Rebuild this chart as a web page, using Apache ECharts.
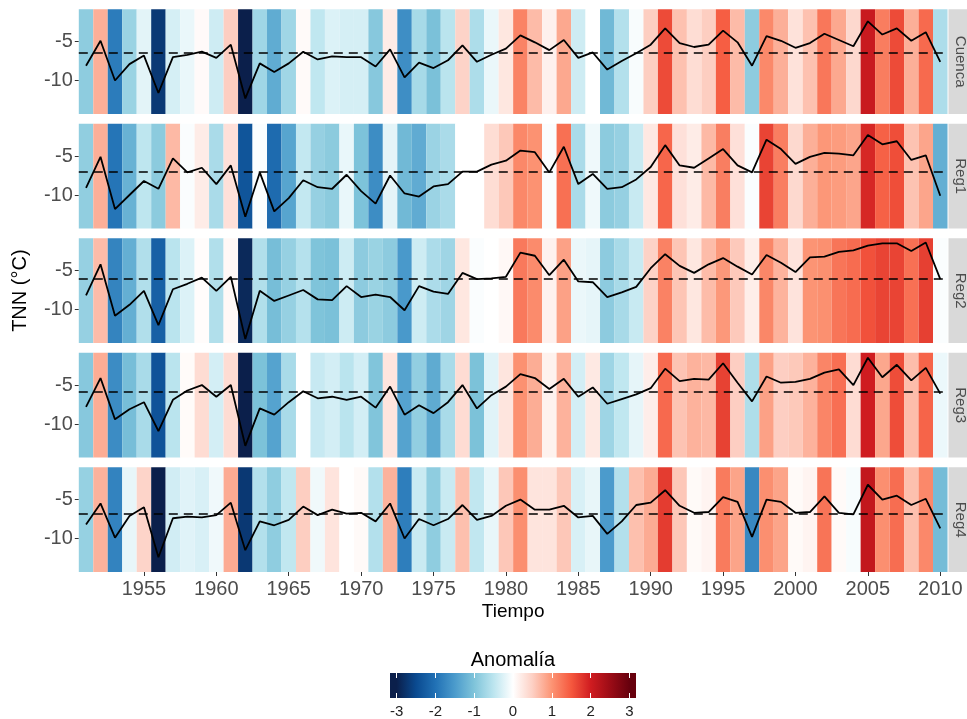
<!DOCTYPE html>
<html>
<head>
<meta charset="utf-8">
<script src="https://cdn.jsdelivr.net/npm/echarts@6.0.0/dist/echarts.min.js"></script>
<style>
  html, body { margin: 0; padding: 0; background: #fff; }
  #chart { width: 967px; height: 719px; }
</style>
</head>
<body>
<div id="chart"></div>
<script>
// años 1951-2010
const years = Array.from({length: 60}, (_, i) => 1951 + i);
const regions = ['Cuenca', 'Reg1', 'Reg2', 'Reg3', 'Reg4'];

// TNN anual (°C) por región
const cuenca = [-8.1, -4.9, -10.0, -7.9, -6.8, -11.6, -7.0, -6.7, -6.3, -7.1,
                -5.4, -12.3, -7.8, -8.9, -7.8, -6.3, -7.3, -6.9, -7.0, -7.0,
                -8.2, -6.0, -9.6, -7.7, -8.4, -7.4, -5.5, -7.6, -6.7, -5.9,
                -4.2, -5.1, -6.1, -4.8, -7.1, -6.4, -8.6, -7.5, -6.5, -5.4,
                -3.3, -5.2, -5.7, -5.4, -3.6, -5.1, -8.1, -4.3, -4.9, -5.8,
                -5.2, -4.0, -4.8, -5.6, -2.4, -4.1, -3.3, -4.9, -3.8, -7.6];
const reg1 = [-9.1, -5.1, -11.8, -10.0, -8.2, -9.2, -5.3, -7.1, -6.5, -8.6,
              -6.2, -12.8, -7.1, -12.1, -10.4, -8.1, -9.0, -9.2, -7.4, -9.5,
              -11.1, -7.5, -9.8, -10.2, -8.9, -8.6, -7.0, -7.0, -6.1, -5.6,
              -4.3, -4.5, -7.1, -3.8, -8.6, -7.3, -9.2, -9.0, -8.0, -6.4,
              -3.6, -6.2, -6.5, -5.3, -4.1, -6.2, -7.1, -2.9, -4.1, -6.0,
              -5.1, -4.6, -4.7, -4.9, -2.3, -3.5, -3.1, -5.5, -4.9, -10.1];
const reg2 = [-8.2, -4.2, -10.8, -9.4, -7.6, -12.0, -7.4, -6.7, -5.9, -7.6,
              -5.8, -13.8, -7.6, -8.9, -8.2, -7.5, -8.7, -8.8, -7.0, -8.4,
              -8.1, -8.4, -10.1, -7.0, -7.7, -8.0, -5.3, -6.1, -6.0, -5.8,
              -2.7, -3.1, -5.6, -3.6, -6.4, -6.5, -8.4, -7.8, -7.1, -4.7,
              -2.9, -4.4, -5.3, -4.2, -3.4, -4.5, -5.5, -3.0, -4.0, -5.2,
              -3.3, -3.2, -2.6, -2.4, -1.8, -1.5, -1.5, -2.5, -1.4, -6.1];
const reg3 = [-7.8, -4.1, -9.4, -8.1, -7.2, -10.9, -6.9, -5.7, -5.0, -6.5,
              -5.0, -12.8, -8.0, -8.8, -7.2, -5.8, -6.7, -6.5, -6.9, -6.5,
              -7.9, -5.2, -8.8, -7.6, -8.6, -7.2, -5.0, -8.0, -6.3, -5.2,
              -3.6, -4.1, -5.5, -4.2, -6.5, -5.3, -7.4, -6.8, -6.2, -5.4,
              -2.9, -4.5, -4.2, -4.3, -2.2, -4.7, -7.1, -3.9, -4.7, -4.6,
              -4.2, -3.4, -3.0, -5.0, -1.5, -4.0, -2.4, -4.4, -2.8, -6.1];
const reg4 = [-8.2, -5.5, -9.9, -7.1, -6.0, -12.4, -7.4, -7.2, -7.3, -7.0,
              -5.4, -11.5, -7.8, -8.3, -7.6, -5.9, -7.0, -6.3, -6.8, -6.7,
              -7.8, -5.5, -10.0, -7.5, -8.3, -7.5, -5.7, -7.6, -7.1, -5.8,
              -5.0, -6.3, -6.3, -5.8, -7.3, -7.1, -9.4, -7.8, -5.7, -5.4,
              -3.8, -5.8, -6.7, -6.6, -4.7, -5.3, -9.8, -5.0, -5.3, -6.7,
              -6.6, -4.6, -6.7, -6.9, -3.1, -5.0, -4.5, -5.7, -4.9, -8.7];
const series_tnn = [cuenca, reg1, reg2, reg3, reg4];

// media de cada región (línea discontinua)
const means = [-6.4, -7.0, -6.0, -5.8, -6.8];

const xTicks = [1955, 1960, 1965, 1970, 1975, 1980, 1985, 1990, 1995, 2000, 2005, 2010];
const yTicks = [-10, -5];
const legendTicks = [-3, -2, -1, 0, 1, 2, 3];

// escala de colores de la anomalía
const palStops = [-3, -2.5, -2, -1.5, -1, -0.5, 0, 0.5, 1, 1.5, 2, 2.5, 3];
const palColors = ['#0b1f4b', '#0a4a90', '#2171b5', '#4b9bcc', '#7fc4da', '#bce5ef', '#ffffff',
                   '#fdd0c4', '#fc9474', '#f5583e', '#d01c20', '#9c0c16', '#67000d'];

const FONT = 'Liberation Sans';
const gridLeft = 78.8, gridWidth = 868.7, panelH = 104.7;
const tops = [9.3, 123.8, 238.3, 352.8, 467.3];
const yMin = -14.3, yMax = -0.86;
const legMin = -3.17, legMax = 3.17;

// anomalía estandarizada
function anomalies(vals, m) {
    let n = vals.length;
    let avg = vals.reduce((a, b) => a + b, 0) / n;
    let sd = Math.sqrt(vals.reduce((a, b) => a + (b - avg) * (b - avg), 0) / (n - 1));
    return vals.map(v => (v - m) / sd);
}

let chart = echarts.init(document.getElementById('chart'), null, {renderer: 'canvas'});

let grids = [], xAxes = [], yAxes = [], series = [], graphics = [];
let barSeriesIdx = [];

for (let i = 0; i < 5; i++) {
    grids.push({left: gridLeft, top: tops[i], width: gridWidth, height: panelH});
    let last = i === 4;
    xAxes.push({
        gridIndex: i, type: 'value', min: 1950.5, max: 2010.5,
        axisLine: {show: false}, splitLine: {show: false},
        axisTick: {show: last, customValues: xTicks, length: 4, lineStyle: {color: '#333'}},
        axisLabel: {
            show: last, customValues: xTicks, fontSize: 20, color: '#4d4d4d', margin: 7, fontFamily: FONT,
            formatter: function (v) { return String(v); }
        },
        name: last ? 'Tiempo' : '', nameLocation: 'middle', nameGap: 30,
        nameTextStyle: {fontSize: 19, color: '#000', fontFamily: FONT}
    });
    yAxes.push({
        gridIndex: i, type: 'value', min: yMin, max: yMax,
        axisLine: {show: false}, splitLine: {show: false},
        axisTick: {show: true, customValues: yTicks, length: 4, lineStyle: {color: '#333'}},
        axisLabel: {customValues: yTicks, fontSize: 20, color: '#4d4d4d', margin: 6, fontFamily: FONT},
        name: i === 2 ? 'TNN (°C)' : '', nameLocation: 'middle', nameGap: 48, nameRotate: 90,
        nameTextStyle: {fontSize: 20, color: '#000', fontFamily: FONT}
    });

    let anom = anomalies(series_tnn[i], means[i]);
    barSeriesIdx.push(series.length);
    series.push({
        type: 'custom', xAxisIndex: i, yAxisIndex: i,
        data: years.map((y, k) => [y, anom[k]]),
        encode: {x: 0},
        silent: true,
        renderItem: function (params, api) {
            let yr = api.value(0);
            let left = api.coord([yr - 0.5, yMin])[0];
            let right = api.coord([yr + 0.5, yMin])[0];
            let cs = params.coordSys;
            return {
                type: 'rect',
                shape: {x: left, y: cs.y, width: right - left, height: cs.height},
                style: {fill: api.visual('color')}
            };
        },
        z: 1
    });
    series.push({
        type: 'line', xAxisIndex: i, yAxisIndex: i,
        data: years.map((y, k) => [y, series_tnn[i][k]]),
        symbol: 'none',
        lineStyle: {color: '#000', width: 1.8},
        z: 4,
        markLine: {
            symbol: ['none', 'none'],
            silent: true,
            label: {show: false},
            lineStyle: {color: '#000', type: [9, 6], width: 1.6},
            data: [{yAxis: means[i]}]
        }
    });

    // franja con el nombre de la región
    graphics.push({
        type: 'rect',
        shape: {x: 948.5, y: tops[i], width: 20, height: panelH},
        style: {fill: '#d9d9d9'}
    });
    graphics.push({
        type: 'text',
        x: 960, y: tops[i] + panelH / 2,
        rotation: -Math.PI / 2,
        style: {
            text: regions[i], fill: '#4d4d4d', font: '15px "' + FONT + '"',
            textAlign: 'center', textVerticalAlign: 'middle', align: 'center', verticalAlign: 'middle'
        }
    });
}

// barra de la leyenda
grids.push({left: 390, top: 673, width: 246, height: 25.5});
xAxes.push({
    gridIndex: 5, type: 'value', min: legMin, max: legMax, position: 'bottom', z: 10,
    axisLine: {show: false}, splitLine: {show: false},
    axisTick: {show: true, inside: true, length: 5, customValues: legendTicks, lineStyle: {color: '#fff', width: 1}},
    axisLabel: {customValues: legendTicks, fontSize: 15, color: '#222', margin: 6, fontFamily: FONT}
});
xAxes.push({
    gridIndex: 5, type: 'value', min: legMin, max: legMax, position: 'top', z: 10,
    axisLine: {show: false}, splitLine: {show: false},
    axisTick: {show: true, inside: true, length: 5, customValues: legendTicks, lineStyle: {color: '#fff', width: 1}},
    axisLabel: {show: false}
});
yAxes.push({gridIndex: 5, type: 'value', min: 0, max: 1, show: false});

let gradStops = [{offset: 0, color: palColors[0]}];
palStops.forEach((v, k) => {
    let off = (v - legMin) / (legMax - legMin);
    gradStops.push({offset: off, color: palColors[k]});
});
gradStops.push({offset: 1, color: palColors[palColors.length - 1]});

series.push({
    type: 'custom', xAxisIndex: 5, yAxisIndex: 5,
    data: [[legMin, legMax]],
    encode: {x: [0, 1]},
    silent: true,
    renderItem: function (params, api) {
        let p0 = api.coord([api.value(0), 1]);
        let p1 = api.coord([api.value(1), 0]);
        return {
            type: 'rect',
            shape: {x: p0[0], y: p0[1], width: p1[0] - p0[0], height: p1[1] - p0[1]},
            style: {fill: new echarts.graphic.LinearGradient(0, 0, 1, 0, gradStops)}
        };
    },
    z: 1
});

graphics.push({
    type: 'text', x: 513, y: 660,
    style: {
        text: 'Anomalía', fill: '#000', font: '20px "' + FONT + '"',
        textAlign: 'center', textVerticalAlign: 'middle', align: 'center', verticalAlign: 'middle'
    }
});

// colores para [-4, 4] en pasos de 0.5: los extremos quedan saturados
let last = palColors.length - 1;
let vmColors = [palColors[0], palColors[0]].concat(palColors, [palColors[last], palColors[last]]);

let option = {
    animation: false,
    backgroundColor: '#fff',
    textStyle: {fontFamily: FONT},
    grid: grids,
    xAxis: xAxes,
    yAxis: yAxes,
    visualMap: {
        type: 'continuous', show: false,
        min: -4, max: 4, dimension: 1,
        seriesIndex: barSeriesIdx,
        inRange: {color: vmColors}
    },
    series: series,
    graphic: graphics
};

chart.setOption(option);
</script>
</body>
</html>
